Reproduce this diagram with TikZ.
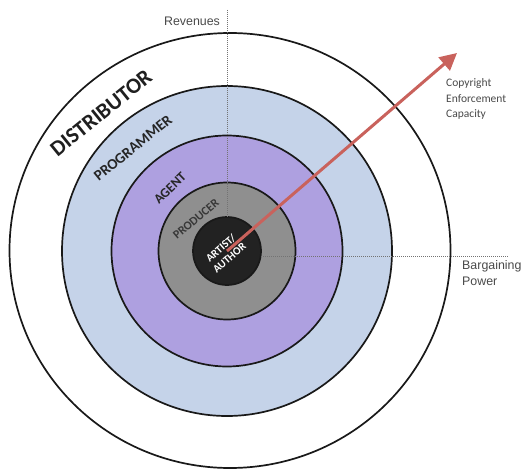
\documentclass[tikz,border=0pt]{standalone}
\usepackage{fontspec}
\setmainfont{Carlito}
\newfontfamily\arialf{Liberation Sans}
\usetikzlibrary{arrows.meta,shapes.geometric}
\definecolor{ringblue}{HTML}{C5D3E9}
\definecolor{ringpurple}{HTML}{AEA0E0}
\definecolor{ringgray}{HTML}{8F8F8F}
\definecolor{ringblack}{HTML}{222222}
\definecolor{arrowred}{HTML}{C9625C}
\definecolor{labelgray}{HTML}{4A4A4A}
\tikzset{
  ring/.style={circle, draw=black!90, line width=1.7pt, inner sep=0pt},
  ringlabel/.style={font=\bfseries, text=black!88, inner sep=0pt},
  axisline/.style={draw=black!55, line width=0.8pt, dash pattern=on 1pt off 1pt},
  axislabel/.style={font=\arialf\fontsize{12.4}{16}\selectfont, text=labelgray, inner sep=0pt, align=left},
  capacity/.style={arrowred, line width=3pt, -{Triangle[length=17pt,width=17pt]}}
}
\begin{document}
\begin{tikzpicture}[x=1pt,y=-1pt]
\path[use as bounding box, clip] (0,0) rectangle (521,470);
\fill[white] (0,0) rectangle (521,470);
% rings
\node[ellipse, draw=black!90, line width=1.7pt, inner sep=0pt, minimum width=441pt, minimum height=435pt, fill=white] (distributor) at (230,250.5) {};
\node[ring, fill=ringblue, minimum size=330pt] (programmer) at (227,251) {};
\node[ring, fill=ringpurple, minimum size=231pt] (agent) at (227,251) {};
\node[ring, fill=ringgray, minimum size=137pt] (producer) at (227,251) {};
\node[ring, fill=ringblack, minimum size=68pt] (artist) at (227,251) {};
% axes
\coordinate (revtop) at (227,10);
\coordinate (bargstart) at (261,256);
\coordinate (bargend) at (508,256);
\draw[axisline] (revtop) -- (artist.north);
\draw[axisline] (bargstart) -- (bargend);
% ring labels
\node[ringlabel, font=\bfseries\fontsize{22}{24}\selectfont, rotate=39] (tdist) at (101,113) {DISTRIBUTOR};
\node[ringlabel, font=\bfseries\fontsize{15}{17}\selectfont, text=black!85, rotate=39] (tprog) at (133,148) {PROGRAMMER};
\node[ringlabel, font=\bfseries\fontsize{13.5}{15}\selectfont, text=black!85, rotate=44] (tagent) at (170,188) {AGENT};
\node[ringlabel, font=\bfseries\fontsize{12}{14}\selectfont, text=black!78, rotate=40] (tprod) at (196,219) {PRODUCER};
\node[ringlabel, font=\bfseries\fontsize{11}{13}\selectfont, text=white, align=center, rotate=41] (tartist) at (225,253) {ARTIST/\\AUTHOR};
% arrow
\coordinate (tip) at (457,53);
\draw[capacity] (artist.center) -- (tip);
% axis labels
\node[axislabel, anchor=center] (trev) at (192,21) {Revenues};
\node[axislabel, anchor=west] (tbarg) at (462,273.5) {Bargaining\\Power};
\node[inner sep=0pt, anchor=west, align=left, text=labelgray, font=\fontsize{11.5}{15.5}\selectfont] (tcopy) at (446,99) {Copyright\\Enforcement\\Capacity};
\end{tikzpicture}
\end{document}
